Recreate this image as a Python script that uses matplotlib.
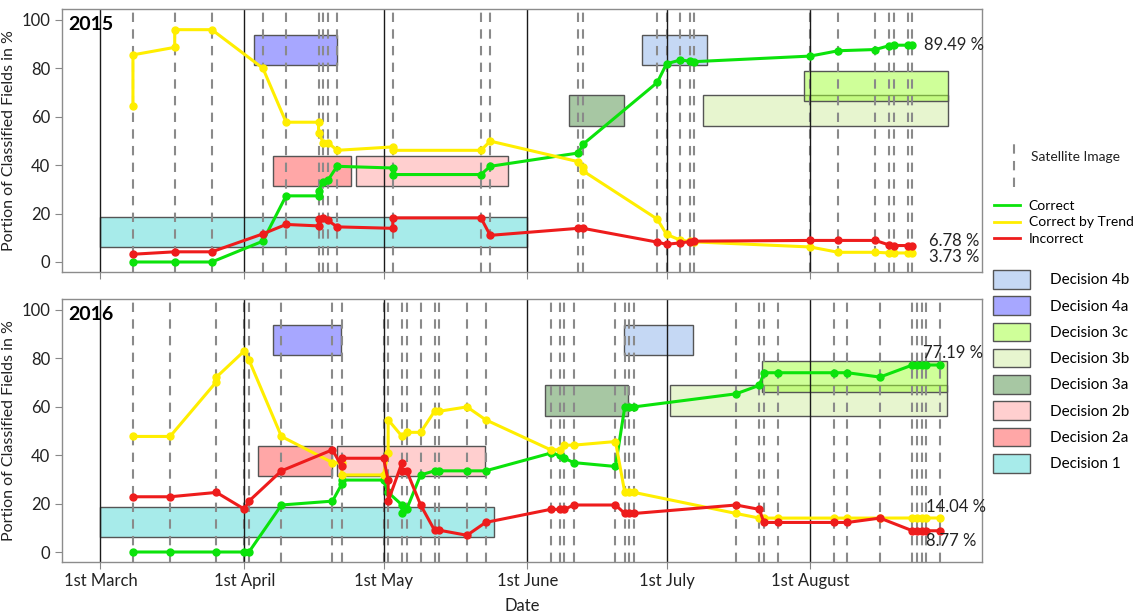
import matplotlib
matplotlib.use('Agg')
import matplotlib.pyplot as plt
from matplotlib.patches import Rectangle, Patch
from matplotlib.lines import Line2D

# Days are counted from 1st March of each season
month_days = [0, 31, 61, 92, 122, 153]
month_labels = ['1st March', '1st April', '1st May', '1st June', '1st July', '1st August']

# 2015 season
trend_days_2015 = [7, 7, 16, 16, 24, 35, 40, 47, 47, 48, 49, 51, 63, 63, 82, 84, 103, 104, 104,
                   120, 122, 125, 127, 128, 153, 159, 167, 170, 171, 174, 175]
trend_2015 = [64.2, 85.5, 88.6, 95.9, 95.9, 80.0, 57.7, 57.7, 53.4, 49.3, 49.3, 46.1, 47.5, 46.1,
              46.1, 49.9, 41.4, 39.2, 37.6, 17.7, 11.4, 9.0, 8.5, 8.3, 6.2, 4.0, 4.0, 3.73, 3.73,
              3.73, 3.73]
days_2015 = [7, 16, 24, 35, 40, 47, 47, 48, 49, 51, 63, 63, 82, 84, 103, 104, 120, 122, 125, 127,
             128, 153, 159, 167, 170, 171, 174, 175]
correct_2015 = [0, 0, 0, 8.6, 27.3, 27.3, 29.5, 33.0, 33.7, 39.5, 38.8, 36.1, 36.1, 39.5, 45.0,
                48.6, 74.1, 81.8, 83.4, 82.9, 82.7, 85.0, 87.2, 87.7, 89.3, 89.49, 89.49, 89.49]
incorrect_2015 = [3.2, 4.2, 4.2, 11.6, 15.5, 14.9, 17.6, 18.2, 17.2, 14.5, 13.9, 18.2, 18.2, 11.0,
                  13.9, 13.9, 8.2, 7.3, 7.9, 8.4, 8.6, 8.9, 8.9, 8.9, 7.0, 6.8, 6.78, 6.78]

# 2016 season
trend_days_2016 = [7, 15, 25, 25, 31, 32, 39, 50, 52, 52, 61, 62, 62, 65, 66, 69, 72, 73, 79, 83,
                   97, 99, 100, 102, 111, 113, 114, 115, 137, 142, 143, 146, 158, 161, 168,
                   175, 176, 177, 178, 181]
trend_2016 = [47.7, 47.7, 70.3, 72.2, 83.0, 79.3, 47.7, 36.9, 36.7, 31.8, 31.8, 40.8, 54.6, 47.7,
              49.4, 49.4, 58.1, 58.1, 59.9, 54.6, 42.2, 42.2, 44.1, 44.1, 45.6, 24.6, 24.6, 24.6,
              15.9, 14.0, 14.0, 14.0, 14.0, 14.0, 14.0, 14.04, 14.04, 14.04, 14.04, 14.04]
correct_days_2016 = [7, 15, 25, 31, 32, 39, 50, 52, 52, 61, 62, 65, 65, 66, 69, 72, 73, 79, 83,
                     97, 99, 100, 102, 111, 113, 114, 115, 137, 142, 143, 146, 158, 161, 168,
                     175, 176, 177, 178, 181]
correct_2016 = [0, 0, 0, 0, 0, 19.4, 21.0, 28.0, 29.7, 29.7, 24.6, 19.4, 15.9, 17.7, 31.8, 33.5,
                33.5, 33.5, 33.5, 40.8, 40.0, 38.7, 36.9, 35.3, 59.9, 59.9, 59.9, 65.3, 68.8,
                74.0, 74.0, 74.0, 74.0, 72.2, 77.19, 77.19, 77.19, 77.19, 77.19]
incorrect_days_2016 = [7, 15, 25, 31, 32, 39, 50, 52, 52, 61, 62, 62, 65, 65, 66, 69, 72, 73, 79,
                       83, 97, 99, 100, 102, 111, 113, 114, 115, 137, 142, 143, 146, 158, 161,
                       168, 175, 176, 177, 178, 181]
incorrect_2016 = [22.8, 22.8, 24.6, 17.7, 21.0, 33.5, 42.2, 35.3, 38.7, 38.7, 29.7, 21.0, 36.9,
                  33.5, 33.5, 19.4, 9.0, 9.0, 6.9, 12.2, 17.6, 17.6, 17.6, 19.4, 19.4, 15.9, 15.9,
                  15.9, 19.4, 17.6, 12.2, 12.2, 12.2, 12.2, 14.0, 8.77, 8.77, 8.77, 8.77, 8.77]

# Decision windows (time span per season, fixed band of percentages)
decisions = ['Decision 4b', 'Decision 4a', 'Decision 3c', 'Decision 3b', 'Decision 3a',
             'Decision 2b', 'Decision 2a', 'Decision 1']
decision_colors = ['#8db3eb', '#5151ff', '#a1ff35', '#d1eda1', '#519149', '#ffa1a1', '#ff5151',
                   '#51d9d7']
decision_low = [81.25, 81.25, 66.25, 56.25, 56.25, 31.25, 31.25, 6.25]
decision_high = [93.75, 93.75, 78.75, 68.75, 68.75, 43.75, 43.75, 18.75]
decision_start_2015 = [116.8, 33.0, 151.7, 129.8, 100.9, 55.0, 37.1, 0]
decision_end_2015 = [130.8, 50.9, 182.6, 182.6, 112.9, 87.9, 53.9, 92]
decision_start_2016 = [112.8, 37.1, 142.6, 122.7, 95.8, 50.9, 34.0, 0]
decision_end_2016 = [127.7, 51.9, 182.5, 182.5, 113.7, 82.8, 49.9, 84.8]

c_green = '#0be30b'
c_yellow = '#ffee00'
c_red = '#ee1c1c'
c_sat = '#8a8a8a'

plt.rcParams['font.family'] = ['Lato', 'DejaVu Sans']

fig = plt.figure(figsize=(11.37, 6.13), dpi=100)
ax_top = fig.add_axes([0.0545, 0.5568, 0.8092, 0.428])
ax_bot = fig.add_axes([0.0545, 0.0837, 0.8092, 0.428])


def draw_panel(ax, year, starts, ends, sat_days, series):
    # decision boxes, semi-transparent so overlaps and lines show through
    for i in reversed(range(len(decisions))):
        ax.add_patch(Rectangle((starts[i], decision_low[i]), ends[i] - starts[i],
                               decision_high[i] - decision_low[i],
                               facecolor=decision_colors[i] + '80', edgecolor='#555555',
                               lw=1, zorder=1))
    for d in sat_days:
        ax.axvline(d, color=c_sat, lw=1.5, dashes=(4.5, 3.5), zorder=2)
    for d in month_days:
        ax.axvline(d, color='#1a1a1a', lw=1.0, zorder=2.5)
    for x, y, c in series:
        ax.plot(x, y, color=c, lw=2.2, marker='o', markersize=5, zorder=3)
    ax.set_xlim(-8.3, 190)
    ax.set_ylim(-4, 104.3)
    ax.set_yticks([0, 20, 40, 60, 80, 100])
    ax.set_xticks(month_days)
    ax.tick_params(colors='#888888', labelcolor='#222222', labelsize=12, length=5)
    for s in ax.spines.values():
        s.set_color('#8c8c8c')
        s.set_linewidth(1)
    ax.set_ylabel('Portion of Classified Fields in %', fontsize=11.5, color='#222222',
                  labelpad=4)
    ax.text(0.007, 0.975, year, transform=ax.transAxes, fontsize=14, fontweight='bold',
            va='top', ha='left', zorder=5)


sat_2015 = sorted(set(trend_days_2015) | set(days_2015))
draw_panel(ax_top, '2015', decision_start_2015, decision_end_2015, sat_2015,
           [(days_2015, correct_2015, c_green), (trend_days_2015, trend_2015, c_yellow),
            (days_2015, incorrect_2015, c_red)])
ax_top.set_xticklabels([])

sat_2016 = sorted(set(trend_days_2016) | set(correct_days_2016) | set(incorrect_days_2016))
draw_panel(ax_bot, '2016', decision_start_2016, decision_end_2016, sat_2016,
           [(correct_days_2016, correct_2016, c_green), (trend_days_2016, trend_2016, c_yellow),
            (incorrect_days_2016, incorrect_2016, c_red)])
ax_bot.set_xticklabels(month_labels)
ax_bot.set_xlabel('Date', fontsize=12, color='#222222', labelpad=6)

# final values at the end of each season
lab = dict(fontsize=12, color='#222222', va='center', ha='left', zorder=5)
ax_top.text(177.5, correct_2015[-1], f'{correct_2015[-1]:.2f} %', **lab)
ax_top.text(178.5, incorrect_2015[-1] + 1.9, f'{incorrect_2015[-1]:.2f} %', **lab)
ax_top.text(178.5, trend_2015[-1] - 1.6, f'{trend_2015[-1]:.2f} %', **lab)
ax_bot.text(177.3, correct_2016[-1] + 5.0, f'{correct_2016[-1]:.2f} %', **lab)
ax_bot.text(178.0, trend_2016[-1] + 4.6, f'{trend_2016[-1]:.2f} %', **lab)
ax_bot.text(178.0, incorrect_2016[-1] - 4.4, f'{incorrect_2016[-1]:.2f} %', **lab)

# legend: satellite image marker
fig.add_artist(Line2D([1014 / 1137, 1014 / 1137], [1 - 187 / 613, 1 - 137 / 613],
                      transform=fig.transFigure, color=c_sat, lw=1.5, dashes=(4.5, 3.5)))
fig.text(1031 / 1137, 1 - 157 / 613, 'Satellite Image', fontsize=10, color='#222222',
         va='center', ha='left')

line_handles = [Line2D([], [], color=c_green, lw=2), Line2D([], [], color=c_yellow, lw=2),
                Line2D([], [], color=c_red, lw=2)]
fig.legend(line_handles, ['Correct', 'Correct by Trend', 'Incorrect'], loc='upper left',
           bbox_to_anchor=(994 / 1137, 1 - 200 / 613), frameon=False, fontsize=10,
           handlelength=1.9, handletextpad=0.6, labelspacing=0.32, borderpad=0,
           borderaxespad=0)

box_handles = [Patch(facecolor=c + '80', edgecolor='#555555', lw=1) for c in decision_colors]
fig.legend(box_handles, decisions, loc='upper left', bbox_to_anchor=(993 / 1137, 1 - 270 / 613),
           frameon=False, fontsize=11, handlelength=2.45, handleheight=1.5, handletextpad=1.3,
           labelspacing=0.5, borderpad=0, borderaxespad=0)

fig.savefig('out.png', dpi=100)
